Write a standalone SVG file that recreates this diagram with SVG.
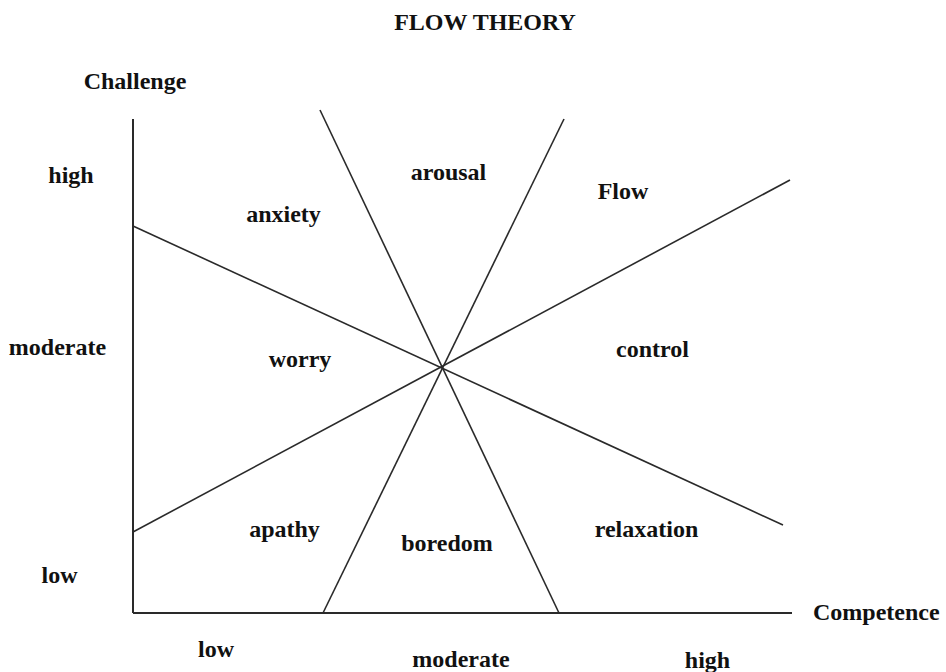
<svg xmlns="http://www.w3.org/2000/svg" width="946" height="672" viewBox="0 0 946 672">
  <style>
    text { font-family: "Liberation Serif", "Times New Roman", serif; font-weight: bold; font-size: 24px; fill: #111; text-anchor: middle; }
    .ln { stroke: #2a2a2a; stroke-width: 1.6; fill: none; }
    .ax { stroke: #2a2a2a; stroke-width: 2; fill: none; }
  </style>
  <rect width="946" height="672" fill="#fff"/>
  <g id="title"><text x="485" y="30">FLOW THEORY</text></g>
  <g id="connectors">
    <line class="ax" x1="133" y1="119" x2="133" y2="613"/>
    <line class="ax" x1="133" y1="613" x2="792" y2="613"/>
    <line class="ln" x1="320" y1="110" x2="559" y2="613"/>
    <line class="ln" x1="564" y1="119" x2="323" y2="613"/>
    <line class="ln" x1="133" y1="226" x2="783" y2="525"/>
    <line class="ln" x1="133" y1="532" x2="790" y2="180"/>
  </g>
  <g id="axis-labels">
    <text x="135" y="89">Challenge</text>
    <text x="813" y="620" style="text-anchor:start">Competence</text>
    <text x="71" y="183">high</text>
    <text x="57.5" y="355">moderate</text>
    <text x="59.5" y="583">low</text>
    <text x="216" y="657">low</text>
    <text x="461" y="667">moderate</text>
    <text x="707.5" y="668">high</text>
  </g>
  <g id="arousal"><text x="448.5" y="180">arousal</text></g>
  <g id="anxiety"><text x="283.5" y="222">anxiety</text></g>
  <g id="flow"><text x="623" y="199">Flow</text></g>
  <g id="worry"><text x="300" y="367">worry</text></g>
  <g id="control"><text x="652.5" y="357">control</text></g>
  <g id="apathy"><text x="284.5" y="537">apathy</text></g>
  <g id="boredom"><text x="447" y="551">boredom</text></g>
  <g id="relaxation"><text x="646.5" y="537">relaxation</text></g>
</svg>
